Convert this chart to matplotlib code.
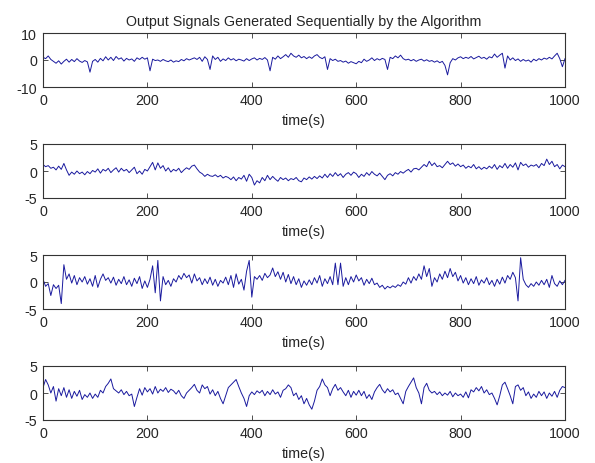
import numpy as np
import matplotlib
matplotlib.use("Agg")
import matplotlib.pyplot as plt

plt.rcParams['font.family'] = ['Liberation Sans', 'DejaVu Sans']
plt.rcParams['axes.unicode_minus'] = False

title = "Output Signals Generated Sequentially by the Algorithm"
xlabel = "time(s)"
x_ticks = [0, 200, 400, 600, 800, 1000]
y_ticks_1 = [-10, 0, 10]
y_ticks_other = [-5, 0, 5]

signal_1 = [
    1.0, 0.5, 1.5, 0.2, -0.5, -1.2, -0.3, -1.5, -0.5, 0.3, -0.8, 0.2, -0.6, 0.5, -0.4, -0.9, -0.2, -0.7, -4.5, -0.5,
    0.2, -0.8, 0.6, -0.3, 1.2, 0.0, 1.0, -0.2, 1.3, 0.3, 0.8, -0.4, 0.6, 0.0, 0.4, -0.5, 0.8, 0.2, 1.0, 0.3,
    0.8, -4.0, 0.3, -0.2, 0.0, -0.5, 0.2, -0.3, -0.6, 0.0, -0.8, -0.3, -0.6, 0.2, -0.3, 0.5, 0.0, 0.4, 0.8, 0.2,
    1.0, -0.5, 1.2, 0.2, -3.5, 1.5, 0.2, 1.0, -0.5, 0.4, -0.2, 0.8, 0.0, 0.5, -0.3, 0.3, 0.0, -0.4, 0.5, -0.2,
    0.4, 0.8, 0.0, 0.6, 0.2, 0.9, 0.0, -4.0, 1.0, 0.3, 1.5, 0.5, 1.2, 2.0, 1.0, 2.5, 1.5, 1.0, 1.8, 0.8,
    1.3, 0.5, 1.2, 0.6, 1.5, 2.0, 1.0, 0.5, 1.2, -3.5, 0.5, -0.2, 0.3, -0.5, -0.2, -0.8, -0.4, -1.2, -0.6, -1.0,
    -1.4, -0.5, -1.0, 0.3, -0.5, 0.0, 0.8, -0.2, 0.5, 0.0, 0.6, 0.2, -3.5, 1.0, 0.5, 1.5, 0.8, 1.8, 0.5, 0.0,
    0.3, -0.3, 0.2, -0.5, 0.0, 0.3, -0.4, 0.1, -0.5, -0.2, -0.8, -0.3, -1.0, -0.5, -2.0, -5.5, -1.0, 0.5, 0.0, 0.8,
    1.2, 0.5, 1.0, 0.6, 1.3, 0.4, 0.9, 1.4, 0.6, 1.0, 0.3, 1.2, 0.8, 2.2, 1.0, 1.8, 2.5, -3.0, 1.5, 0.0,
    0.8, -0.2, 0.4, -0.5, 0.2, -0.4, 0.0, -0.8, 0.3, -0.3, 0.5, 0.0, 0.7, 0.3, 1.0, 0.4, 1.5, 2.5, 0.5, -2.5,
    0.5,
]

signal_2 = [
    1.2, 0.8, 1.0, 0.5, 0.7, 0.2, 0.9, 0.3, 1.4, 0.2, -0.8, -0.2, -0.6, 0.0, -0.5, -0.2, -0.7, -0.1, -0.5, 0.1,
    -0.2, 0.4, -0.4, 0.3, 0.0, 0.5, -0.3, 0.2, 0.6, -0.2, 0.5, 0.0, 0.3, -0.3, 0.2, 0.7, -0.5, 0.0, -0.6, 0.3,
    0.0, 0.8, 1.6, 0.2, 1.5, 0.5, 1.0, 0.0, 0.6, -0.2, 0.3, 0.0, 0.5, -0.3, 0.2, 0.6, 0.3, 0.9, 1.1, 0.4,
    -0.2, -0.5, -1.0, -0.6, -0.9, -1.0, -0.7, -1.1, -0.8, -1.3, -1.0, -1.2, -1.6, -1.1, -1.8, -1.2, -1.5, -0.8, -1.9, -0.6,
    -1.2, -2.6, -1.8, -2.2, -1.2, -1.8, -0.8, -1.6, -1.0, -1.5, -1.9, -1.2, -1.6, -1.3, -1.8, -1.4, -1.6, -1.2, -1.8, -2.0,
    -1.3, -1.6, -1.1, -1.5, -1.0, -1.4, -0.9, -1.3, -0.6, -1.2, -0.5, -1.0, -0.3, -0.9, -0.5, -1.2, -0.6, -0.3, -0.8, -0.2,
    -0.5, -1.2, -0.6, -1.0, -0.3, -0.8, -0.1, -0.6, -0.9, -0.4, -1.0, -1.6, -0.8, -0.5, -0.9, -0.3, -0.6, -0.1, -0.4, 0.0,
    0.3, -0.2, 0.4, 0.5, 0.2, 0.7, 1.2, 0.8, 1.8, 1.0, 1.5, 0.8, 1.0, 0.6, 1.2, 1.8, 1.2, 1.5, 0.9, 1.3,
    0.8, 1.1, 0.5, 0.9, 0.6, 1.2, 0.4, 0.8, 0.3, 0.7, 0.4, 0.9, 0.5, 1.2, 0.3, 1.0, 0.6, 1.4, 0.5, 1.2,
    0.7, 1.5, 0.2, 1.6, 1.0, 1.3, 0.7, 1.1, 0.9, 1.2, 0.6, 1.4, 1.0, 2.2, 1.2, 1.8, 0.8, 1.2, 0.4, 1.1,
    0.8,
]

signal_3 = [
    0.5, -0.8, -0.3, -2.5, -0.5, -1.2, -0.6, -4.0, 3.2, 0.5, 1.5, -0.2, 1.2, -0.5, 0.8, 0.0, 1.0, -0.4, 0.6, -0.8,
    1.2, -1.0, 0.5, 1.5, 0.3, 0.8, -0.2, 0.9, -0.6, 0.5, -0.3, 1.0, -0.5, 0.4, -0.8, 0.7, -0.3, 1.0, -1.2, 0.2,
    -1.0, 0.5, 3.0, -2.0, 4.0, -3.5, 1.0, -0.5, 0.3, -0.8, 0.6, 0.0, 1.2, 0.5, 1.6, 0.8, 1.3, -0.2, 1.5, 0.2,
    0.8, -0.5, 0.6, -0.3, 0.9, -0.6, 0.5, -0.8, 0.3, -0.2, 0.9, -0.5, 1.2, -1.0, 1.5, -0.4, 0.5, -1.5, 2.0, 4.0,
    -2.8, 1.0, 0.5, 1.2, 0.3, 1.6, 0.8, 1.3, 2.6, 1.0, 1.9, 0.5, 1.8, 0.0, 1.4, -0.3, 1.0, -0.5, 0.6, -1.0,
    0.2, -0.6, 0.4, -0.5, 0.8, -0.2, 1.2, -0.8, 0.6, -0.3, 1.0, -0.5, 3.5, -0.5, 3.5, -0.8, 0.8, -0.5, 1.0, 0.0,
    1.3, 0.2, 0.8, -0.6, 0.5, -0.3, 0.7, -0.5, -0.2, -1.0, -0.6, -1.3, -0.8, -1.1, -0.7, -1.0, -0.5, -0.8, 0.0, -0.4,
    0.8, -0.2, 1.0, 0.3, 1.5, 0.5, 3.0, 1.0, 2.5, -0.8, 0.8, 0.0, 1.5, 0.5, 2.0, 0.8, 2.5, 1.0, 1.8, 0.2,
    1.2, -0.2, 0.8, -0.5, 0.6, -0.3, 1.0, -0.6, 0.4, -0.2, 0.8, -0.5, 0.3, -0.8, 0.5, -0.4, 0.9, -0.2, 1.2, 0.5,
    1.8, 0.8, -3.5, 4.5, 0.5, -0.5, -1.0, -0.3, -0.8, 0.0, -0.6, 0.3, -0.5, 0.5, -1.0, 1.2, -0.3, -0.8, 0.2, -0.5,
    0.3,
]

signal_4 = [
    1.0, 2.5, 1.5, 0.0, 1.2, -1.5, 0.8, -0.5, 1.0, -0.8, 0.6, -1.0, 0.3, -0.6, 0.5, -1.2, -0.3, -0.8, 0.0, -1.0,
    -0.2, -0.8, 0.5, 0.0, 1.2, 1.8, 2.6, 0.8, 0.4, 0.0, 0.6, -0.3, 0.3, -0.5, -0.2, -2.5, -0.8, 0.8, -0.4, 1.0,
    0.2, 0.8, -0.2, 1.2, 0.0, 0.7, 0.3, 1.0, 0.1, 0.7, 0.4, -0.2, 0.5, -0.5, -1.0, 0.0, 0.5, 1.0, 1.6, 0.5,
    0.0, 1.5, 0.8, 1.2, -0.2, 0.6, -0.5, 0.3, -1.0, -2.0, -0.5, 1.0, 1.5, 2.0, 2.5, 1.2, 0.0, -1.0, -2.5, -0.5,
    0.2, -0.3, 0.4, 0.0, 0.5, -0.5, 0.3, -0.3, 0.6, -0.2, 0.2, -0.8, 0.5, 0.8, 1.5, 1.0, -0.5, 0.0, -1.2, -0.5,
    -2.0, -1.0, -2.2, -3.0, -1.5, 0.5, 1.2, 2.6, 1.5, 1.0, -0.5, 0.8, 1.6, 0.5, 1.0, 0.2, -0.5, 0.5, -0.8, 0.3,
    -0.4, 0.5, -0.5, 0.3, -1.0, -0.3, -1.2, 0.2, 1.0, 1.6, 0.6, 0.0, 0.8, 0.2, 0.6, -0.3, 0.0, -1.0, -2.0, 0.3,
    1.2, 2.0, 2.8, 1.0, 0.0, -2.0, 1.0, 1.8, 0.5, 0.0, 0.3, -0.3, 0.2, -0.5, 0.0, -0.4, 0.3, -0.7, 0.0, -0.5,
    -0.2, -0.8, 0.2, -0.9, 0.6, 0.2, 1.0, 0.4, 1.2, 0.0, 0.6, -0.3, 0.0, -1.0, -2.2, -0.5, 1.5, 2.0, 0.8, -0.5,
    -2.0, 1.2, 1.5, 0.5, 1.0, -0.5, 0.2, -1.0, -0.2, -0.8, 0.3, -0.5, 0.2, -1.0, 0.0, -0.6, 0.3, -0.8, 0.5, 1.2,
    1.0,
]

signals = [signal_1, signal_2, signal_3, signal_4]
y_limits = [(-10, 10), (-5, 5), (-5, 5), (-5, 5)]
y_ticks = [y_ticks_1, y_ticks_other, y_ticks_other, y_ticks_other]

W, H = 595, 464
fig = plt.figure(figsize=(W / 100, H / 100), dpi=100)

left_px, right_px = 43, 565
tops_px = [34, 145, 256, 367]
height_px = 54
text_color = '#262626'
line_color = '#1a1a9e'
fs = 10.3

for i, sig in enumerate(signals):
    top = tops_px[i]
    ax = fig.add_axes([left_px / W, 1 - (top + height_px) / H,
                       (right_px - left_px) / W, height_px / H])
    xs = np.linspace(0, 1000, len(sig))
    ax.plot(xs, sig, color=line_color, linewidth=0.7)
    ax.set_xlim(0, 1000)
    ax.set_ylim(*y_limits[i])
    ax.set_xticks(x_ticks)
    ax.set_yticks(y_ticks[i])
    ax.tick_params(direction='in', length=3.5, width=0.6, top=True, right=True,
                   labelsize=fs, labelcolor=text_color, color='#333333', pad=4.3)
    for s in ax.spines.values():
        s.set_linewidth(0.8)
        s.set_color('#333333')
    ax.set_xlabel(xlabel, fontsize=fs, color=text_color, labelpad=4)
    if i == 0:
        ax.set_title(title, fontsize=fs, color=text_color, pad=6)

fig.savefig("out.png", dpi=100, facecolor='white')
